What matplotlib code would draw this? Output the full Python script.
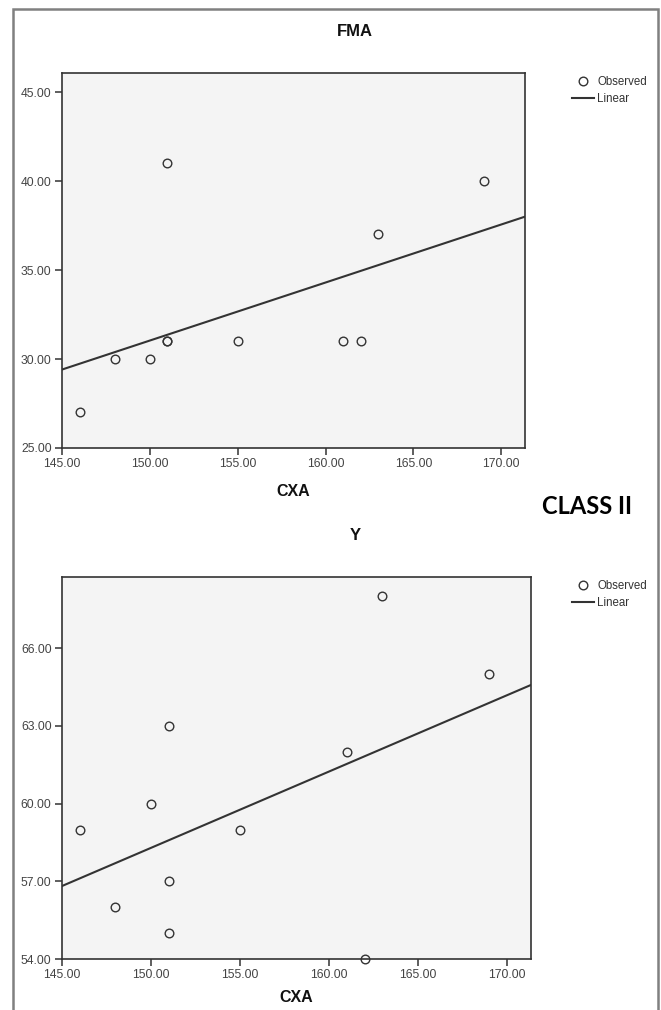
import numpy as np
import matplotlib
matplotlib.use("Agg")
import matplotlib.pyplot as plt
from matplotlib.patches import Rectangle

plt.rcParams['font.family'] = ['Liberation Sans', 'DejaVu Sans']

# data
cxa = [146, 148, 150, 151, 151, 151, 155, 161, 162, 163, 169]
fma = [27, 30, 30, 41, 31, 31, 31, 31, 31, 37, 40]
y_vals = [59, 56, 60, 63, 57, 55, 59, 62, 54, 68, 65]

x_ticks = [145, 150, 155, 160, 165, 170]
fma_ticks = [25, 30, 35, 40, 45]
y_ticks = [54, 57, 60, 63, 66]

xlim = (145, 171.35)
fma_lim = (25, 46.07)
y_lim = (54, 68.75)

W, H = 661, 1010
fig = plt.figure(figsize=(W / 100, H / 100), dpi=100)

ink = '#333333'


def panel(rect, xs, ys, ylim, yticks, title, title_y, leg_top):
    ax = fig.add_axes(rect)
    ax.set_facecolor('#f4f4f4')
    ax.plot(xs, ys, 'o', ms=6.2, mfc='none', mec=ink, mew=1.0,
            label='Observed', clip_on=False, zorder=3)
    b, a = np.polyfit(xs, ys, 1)
    xx = np.array(xlim)
    ax.plot(xx, a + b * xx, '-', color=ink, lw=1.5, label='Linear')
    ax.set_xlim(*xlim)
    ax.set_ylim(*ylim)
    ax.set_xticks(x_ticks)
    ax.set_yticks(yticks)
    ax.set_xticklabels(['%.2f' % v for v in x_ticks])
    ax.set_yticklabels(['%.2f' % v for v in yticks])
    ax.tick_params(direction='out', length=5, width=1.1, color=ink,
                   labelsize=8.7, labelcolor='#444444', pad=2.5)
    for s in ax.spines.values():
        s.set_color(ink)
        s.set_linewidth(1.2)
    # SPSS centres the chart title over plot + legend
    fig.text(355 / W, title_y, title, ha='center', va='center',
             fontsize=12, fontweight='bold', color='#111111')
    ax.legend(loc='upper left', bbox_to_anchor=(572 / W, leg_top),
              bbox_transform=fig.transFigure, frameon=False, fontsize=8.3,
              borderpad=0, borderaxespad=0, handlelength=1.9,
              handletextpad=0.3, labelspacing=0.45, labelcolor='#333333')
    return ax


ax1 = panel([62 / W, 1 - 448 / H, (525 - 62) / W, (448 - 73) / H],
            cxa, fma, fma_lim, fma_ticks, 'FMA', 1 - 32 / H, 1 - 76 / H)
ax2 = panel([62 / W, 1 - 959 / H, (531 - 62) / W, (959 - 577) / H],
            cxa, y_vals, y_lim, y_ticks, 'Y', 1 - 535 / H, 1 - 580 / H)

fig.text(ax1.get_position().x0 + ax1.get_position().width / 2, 1 - 491 / H,
         'CXA', ha='center', va='center', fontsize=11.5, fontweight='bold',
         color='#111111')
fig.text(ax2.get_position().x0 + ax2.get_position().width / 2, 1 - 998 / H,
         'CXA', ha='center', va='center', fontsize=11.5, fontweight='bold',
         color='#111111')

fig.text(587 / W, 1 - 507 / H, 'CLASS II', ha='center', va='center',
         fontsize=17, fontweight='bold', color='black',
         family=['Lato', 'Liberation Sans'])

# outer frame of the figure panel
fig.patches.append(Rectangle((13 / W, -0.05), (658 - 13) / W, 1.05 - 9 / H,
                             transform=fig.transFigure, fill=False,
                             edgecolor='#808080', lw=1.8))

fig.savefig('out.png', dpi=100)
